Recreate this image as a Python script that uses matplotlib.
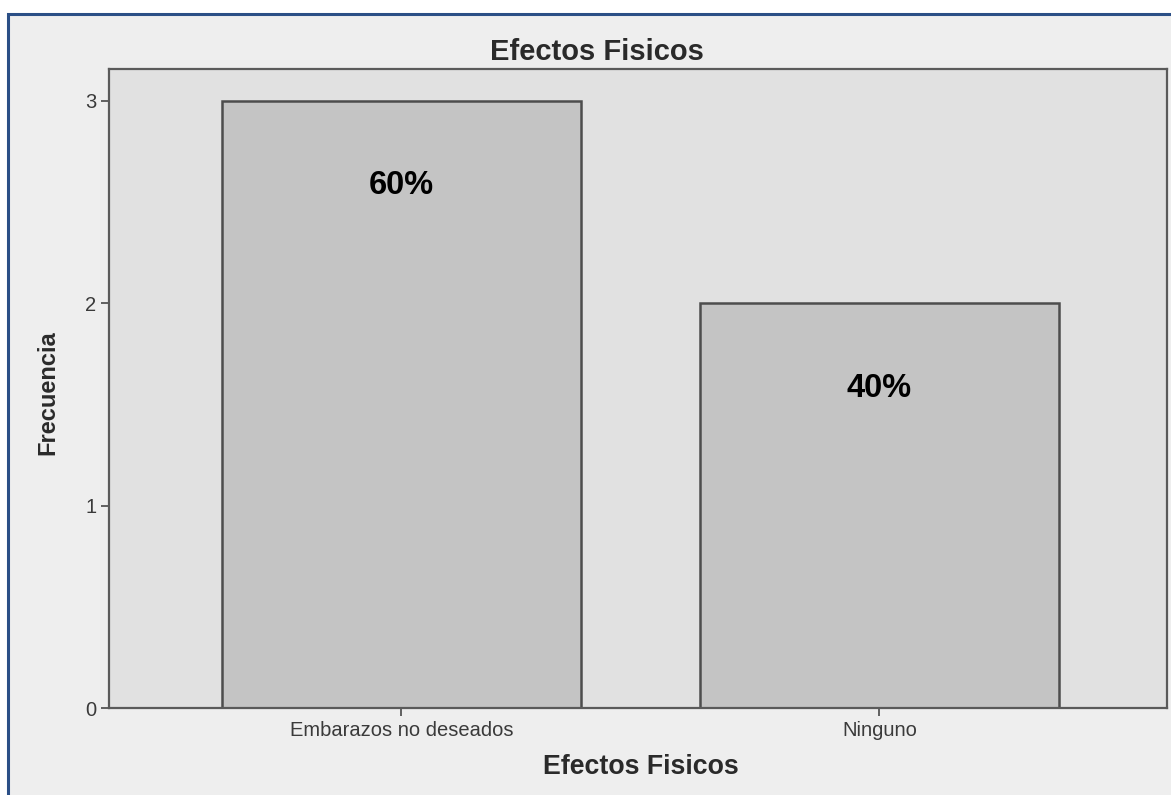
import matplotlib

matplotlib.use("Agg")
import matplotlib.pyplot as plt
from matplotlib.patches import Rectangle

OUTPUT_IMAGE = "out.png"

categories = ["Embarazos no deseados", "Ninguno"]
frequencies = [3, 2]
percent_labels = ["60%", "40%"]
y_ticks = [0, 1, 2, 3]
chart_title = "Efectos Fisicos"
x_title = "Efectos Fisicos"
y_title = "Frecuencia"

plt.rcParams["font.family"] = ["Liberation Sans", "DejaVu Sans"]

W, H = 1171, 795
fig = plt.figure(figsize=(W / 100, H / 100), dpi=100, facecolor="white")

# light panel with the blue frame on top and left (cut off right and bottom)
panel = Rectangle(
    (8 / W, -0.05), 1.1, 1 - 14 / H + 0.05,
    transform=fig.transFigure, facecolor="#eeeeee",
    edgecolor="#2b4f86", linewidth=2.2, zorder=-10,
)
fig.add_artist(panel)

ax = fig.add_axes([109 / W, 1 - 708 / H, (1167 - 109) / W, (708 - 69) / H])
ax.set_zorder(1)
ax.set_facecolor("#e1e1e1")

x_pos = list(range(len(categories)))
ax.bar(x_pos, frequencies, width=0.75, color="#c4c4c4",
       edgecolor="#4d4d4d", linewidth=1.8, zorder=2)

for x, f, lab in zip(x_pos, frequencies, percent_labels):
    ax.text(x, f - 0.42, lab, ha="center", va="center",
            fontsize=23.5, fontweight="bold", color="black", zorder=3)

ax.set_xlim(-0.612, 1.602)
ax.set_ylim(0, 3.158)
ax.set_xticks(x_pos)
ax.set_xticklabels(categories)
ax.set_yticks(y_ticks)

ax.tick_params(axis="x", length=6, width=1.3, color="#555555",
               labelsize=14.5, labelcolor="#3a3a3a", pad=3)
ax.tick_params(axis="y", length=6, width=1.3, color="#555555",
               labelsize=14.5, labelcolor="#3a3a3a", pad=3)

for side in ["top", "right", "bottom", "left"]:
    ax.spines[side].set_color("#5a5a5a")
    ax.spines[side].set_linewidth(1.6)

fig.text(597 / W, 1 - 52 / H, chart_title, ha="center", va="center",
         fontsize=21, fontweight="bold", color="#2a2a2a")
fig.text(641 / W, 1 - 767 / H, x_title, ha="center", va="center",
         fontsize=19.3, fontweight="bold", color="#2a2a2a")
fig.text(48 / W, 1 - 393 / H, y_title, ha="center", va="center",
         rotation=90, fontsize=17, fontweight="bold", color="#2a2a2a")

fig.savefig(OUTPUT_IMAGE, dpi=100, facecolor=fig.get_facecolor())
plt.close(fig)
